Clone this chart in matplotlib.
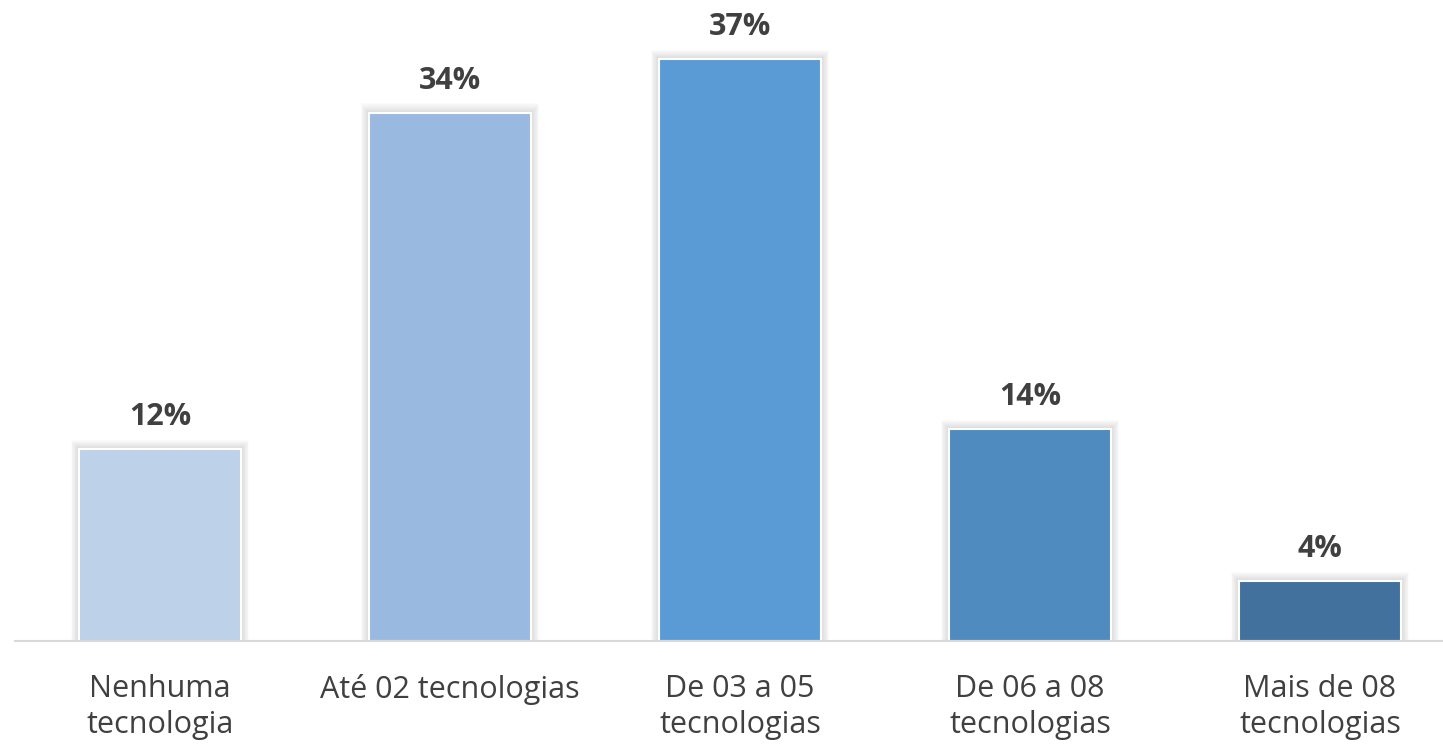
import matplotlib.pyplot as plt

# Data
categories = ["Nenhuma\ntecnologia", "Até 02 tecnologias", "De 03 a 05\ntecnologias",
              "De 06 a 08\ntecnologias", "Mais de 08\ntecnologias"]
values = [12.2, 33.6, 37.0, 13.5, 3.8]
colors = ["#BDD1E9", "#99B9E0", "#5B9BD5", "#4F8BBE", "#41719C"]

plt.rcParams["font.family"] = ["Open Sans", "DejaVu Sans"]

W, H = 1443, 745
fig = plt.figure(figsize=(W / 100, H / 100), dpi=100)
# axes spans beyond the right edge (chart is cropped in the reference)
ax = fig.add_axes([15 / W, 104 / H, 1450 / W, 629 / H])

x = list(range(len(values)))
width = 0.562

# soft shadow behind the bars
for k in range(1, 10):
    dx = 0.003 * k
    dy = 0.065 * k
    ax.bar(x, [v + dy for v in values], width=width + 2 * dx,
           color="black", alpha=0.016, linewidth=0, zorder=1)

ax.bar(x, values, width=width, color=colors, edgecolor="white",
       linewidth=1.5, zorder=2)

for xi, v in zip(x, values):
    ax.annotate(f"{v:.0f}%", (xi, v), xytext=(0, 23), textcoords="offset points",
                ha="center", va="center", fontsize=22, fontweight="bold",
                color="#404040")

ax.set_xlim(-0.5, 4.5)
ax.set_ylim(0, 40)
ax.set_xticks(x)
ax.set_xticklabels(categories, fontsize=22, color="#404040", linespacing=1.25)
ax.tick_params(axis="x", length=0, pad=24)
ax.set_yticks([])
for side in ["top", "right", "left"]:
    ax.spines[side].set_visible(False)
ax.spines["bottom"].set_color("#D9D9D9")
ax.spines["bottom"].set_linewidth(1.5)
ax.spines["bottom"].set_zorder(3)

fig.savefig("out.png", dpi=100)
